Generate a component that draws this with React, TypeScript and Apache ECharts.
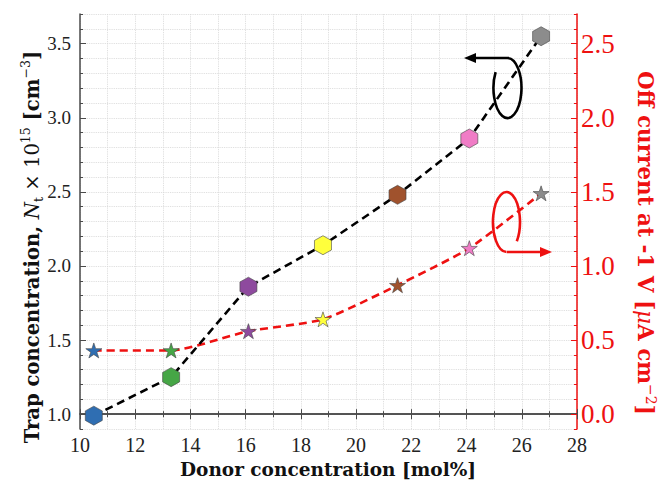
import React, { useEffect, useRef } from "react";
import * as echarts from "echarts";

// ---- data ----
const donorConc = [10.5, 13.3, 16.1, 18.8, 21.5, 24.1, 26.7];
const trapConc = [0.99, 1.25, 1.86, 2.14, 2.48, 2.86, 3.55];
const offCurrent = [0.43, 0.43, 0.56, 0.64, 0.87, 1.12, 1.49];
const pointColors = ["#2f6eb2", "#46a646", "#8e4a9e", "#ffff3c", "#a0522d", "#f07cc6", "#8c8c8c"];
const leftMajorTicks = [1.0, 1.5, 2.0, 2.5, 3.0, 3.5];
const rightMajorTicks = [0.0, 0.5, 1.0, 1.5, 2.0, 2.5];

const FONT = "'Liberation Serif', 'DejaVu Serif', serif";
const TFONT = "'DejaVu Serif', 'Liberation Serif', serif";
const RED = "#ee1111";
const hexPath = "path://M0,-1 L0.866,-0.5 L0.866,0.5 L0,1 L-0.866,0.5 L-0.866,-0.5 Z";
function starPath(): string {
  const pts: string[] = [];
  for (let k = 0; k < 10; k++) {
    const r = k % 2 === 0 ? 1 : 0.382;
    const a = -Math.PI / 2 + (k * Math.PI) / 5;
    pts.push(`${(r * Math.cos(a)).toFixed(4)},${(r * Math.sin(a)).toFixed(4)}`);
  }
  return "path://M" + pts.join(" L") + " Z";
}
const STAR = starPath();

const halfLabel = (v: number) =>
  Math.abs(v * 2 - Math.round(v * 2)) < 1e-6 ? v.toFixed(1) : "";

echarts.graphic.registerShape(
  "blackLoop",
  echarts.graphic.extendPath("M509 58 L472 58 M507.5 58 A14 30 0 1 1 495.6 72.1", {})
);
echarts.graphic.registerShape(
  "redLoop",
  echarts.graphic.extendPath("M507 252 L542 252 M506.5 252 A13.5 30 0 1 1 516.8 241.3", {})
);

export default function App() {
  const ref = useRef<HTMLDivElement>(null);
  useEffect(() => {
    if (!ref.current) return;
    const chart = echarts.init(ref.current, undefined, { renderer: "svg" });
    const gridLine = { show: true, lineStyle: { color: "#d8d8d8", type: "dotted" as const, width: 0.9 } };
    const spine = "#4a4a4a";
    const option: any = {
      animation: false,
      backgroundColor: "#ffffff",
      grid: { left: 80, right: 88, top: 14, bottom: 52, containLabel: false },
      xAxis: [
        {
          type: "value",
          min: 10,
          max: 28,
          interval: 2,
          axisLine: { show: true, lineStyle: { color: spine, width: 1.5 } },
          axisTick: { show: true, inside: true, length: 5, lineStyle: { color: spine } },
          minorTick: { show: true, splitNumber: 2, length: 3, lineStyle: { color: spine } },
          splitLine: gridLine,
          minorSplitLine: gridLine,
          axisLabel: { color: "#222", fontFamily: FONT, fontSize: 20, margin: 6 },
        },
        {
          type: "value",
          position: "top",
          min: 10,
          max: 28,
          interval: 2,
          axisLine: { show: true, lineStyle: { color: spine, width: 1.5 } },
          axisTick: { show: true, inside: true, length: 5, lineStyle: { color: spine } },
          minorTick: { show: true, splitNumber: 2, length: 3, lineStyle: { color: spine } },
          splitLine: { show: false },
          axisLabel: { show: false },
        },
      ],
      yAxis: [
        {
          type: "value",
          position: "left",
          min: 0.9,
          max: 3.7,
          interval: 0.1,
          axisLine: { show: true, lineStyle: { color: spine, width: 1.5 } },
          axisTick: { show: true, inside: true, length: 3, lineStyle: { color: spine } },
          splitLine: gridLine,
          axisLabel: { color: "#222", fontFamily: FONT, fontSize: 19, margin: 9, formatter: halfLabel },
        },
        {
          type: "value",
          position: "right",
          min: -0.1,
          max: 2.7,
          interval: 0.1,
          axisLine: { show: true, lineStyle: { color: RED, width: 1.5 } },
          axisTick: { show: true, inside: true, length: 3, lineStyle: { color: RED } },
          splitLine: { show: false },
          axisLabel: { color: RED, fontFamily: FONT, fontSize: 27, margin: 4, formatter: halfLabel },
        },
        {
          type: "value",
          position: "left",
          min: 0.9,
          max: 3.7,
          axisLine: { show: false },
          axisTick: { show: true, inside: true, length: 6, customValues: leftMajorTicks, lineStyle: { color: spine } },
          axisLabel: { show: false, customValues: leftMajorTicks },
          splitLine: { show: false },
        },
        {
          type: "value",
          position: "right",
          min: -0.1,
          max: 2.7,
          axisLine: { show: false },
          axisTick: { show: true, inside: true, length: 6, customValues: rightMajorTicks, lineStyle: { color: RED } },
          axisLabel: { show: false, customValues: rightMajorTicks },
          splitLine: { show: false },
        },
      ],
      series: [
        {
          type: "line",
          xAxisIndex: 0,
          yAxisIndex: 1,
          data: donorConc.map((x, i) => ({ value: [x, offCurrent[i]], itemStyle: { color: pointColors[i] } })),
          symbol: STAR,
          symbolSize: [16, 15],
          smooth: 0.2,
          lineStyle: { color: RED, width: 2.6, type: [8, 5] },
          itemStyle: { borderColor: "#444", borderWidth: 0.6 },
          z: 3,
        },
        {
          type: "line",
          xAxisIndex: 0,
          yAxisIndex: 0,
          data: donorConc.map((x, i) => ({ value: [x, trapConc[i]], itemStyle: { color: pointColors[i] } })),
          symbol: hexPath,
          symbolSize: [17, 19],
          lineStyle: { color: "#000", width: 2.6, type: [8, 5] },
          itemStyle: { borderColor: "#444", borderWidth: 0.6 },
          z: 4,
        },
      ],
      graphic: [
        { type: "blackLoop", x: 0, y: 0, style: { stroke: "#000", lineWidth: 2.6, fill: null }, z: 10 },
        {
          type: "polygon",
          shape: { points: [[464, 58], [476, 53], [476, 63]] },
          style: { fill: "#000" },
          z: 10,
        },
        { type: "redLoop", x: 0, y: 0, style: { stroke: RED, lineWidth: 2.6, fill: null }, z: 10 },
        {
          type: "polygon",
          shape: { points: [[552, 252], [540, 247], [540, 257]] },
          style: { fill: RED },
          z: 10,
        },
        {
          type: "text",
          x: 32,
          y: 247,
          rotation: Math.PI / 2,
          style: {
            text: "{t|Trap concentration, }{i|N}{s|t}{m| × 10}{p|15}{t| [cm}{p|−3}{t|]}",
            align: "center",
            verticalAlign: "middle",
            fill: "#111",
            rich: {
              t: { fontFamily: TFONT, fontSize: 19.6, fontWeight: "bold", fill: "#111", lineHeight: 26 },
              i: { fontFamily: TFONT, fontSize: 19.6, fontStyle: "italic", fill: "#111", lineHeight: 26 },
              m: { fontFamily: TFONT, fontSize: 19.6, fill: "#111", lineHeight: 26 },
              s: { fontFamily: TFONT, fontSize: 12.5, fill: "#111", lineHeight: 12, verticalAlign: "bottom" },
              p: { fontFamily: TFONT, fontSize: 12.5, fill: "#111", lineHeight: 12, verticalAlign: "top" },
            },
          },
        },
        {
          type: "text",
          x: 645,
          y: 243,
          rotation: -Math.PI / 2,
          style: {
            text: "{t|Off current at -1 V [}{i|μ}{t|A cm}{p|−2}{t|]}",
            align: "center",
            verticalAlign: "middle",
            fill: RED,
            rich: {
              t: { fontFamily: TFONT, fontSize: 21.5, fontWeight: "bold", fill: RED, lineHeight: 26 },
              i: { fontFamily: TFONT, fontSize: 21.5, fontStyle: "italic", fill: RED, lineHeight: 26 },
              p: { fontFamily: TFONT, fontSize: 14, fill: RED, lineHeight: 12, verticalAlign: "top" },
            },
          },
        },
        {
          type: "text",
          x: 328,
          y: 469,
          style: {
            text: "Donor concentration [mol%]",
            align: "center",
            verticalAlign: "middle",
            fill: "#111",
            fontFamily: TFONT,
            fontSize: 18.5,
            fontWeight: "bold",
          },
        },
      ],
    };
    chart.setOption(option);
    return () => chart.dispose();
  }, []);
  return (
    <div
      ref={ref}
      style={{ position: "fixed", left: 0, top: 0, width: 665, height: 481, background: "#fff" }}
    />
  );
}
